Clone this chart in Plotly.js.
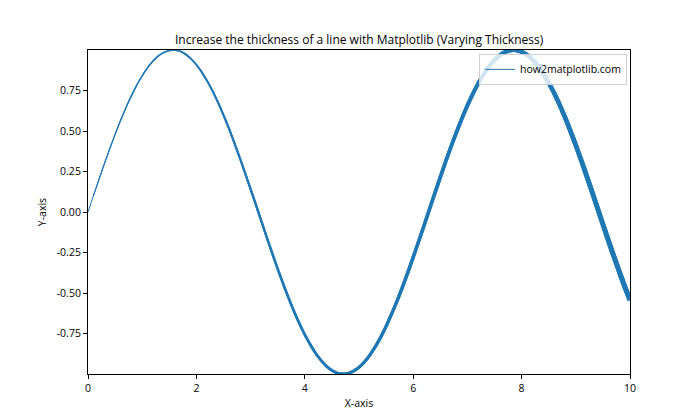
<!DOCTYPE html>
<html>
<head>
<meta charset="utf-8">
<script src="https://cdn.plot.ly/plotly-3.0.1.min.js"></script>
<style>
  body { margin: 0; background: #fff; }
  #chart { width: 700px; height: 420px; }
</style>
</head>
<body>
<div id="chart"></div>
<script>
const xValues = [0.0, 0.1, 0.2, 0.3, 0.4, 0.5, 0.6, 0.7, 0.8, 0.9,
                 1.0, 1.1, 1.2, 1.3, 1.4, 1.5, 1.6, 1.7, 1.8, 1.9,
                 2.0, 2.1, 2.2, 2.3, 2.4, 2.5, 2.6, 2.7, 2.8, 2.9,
                 3.0, 3.1, 3.2, 3.3, 3.4, 3.5, 3.6, 3.7, 3.8, 3.9,
                 4.0, 4.1, 4.2, 4.3, 4.4, 4.5, 4.6, 4.7, 4.8, 4.9,
                 5.0, 5.1, 5.2, 5.3, 5.4, 5.5, 5.6, 5.7, 5.8, 5.9,
                 6.0, 6.1, 6.2, 6.3, 6.4, 6.5, 6.6, 6.7, 6.8, 6.9,
                 7.0, 7.1, 7.2, 7.3, 7.4, 7.5, 7.6, 7.7, 7.8, 7.9,
                 8.0, 8.1, 8.2, 8.3, 8.4, 8.5, 8.6, 8.7, 8.8, 8.9,
                 9.0, 9.1, 9.2, 9.3, 9.4, 9.5, 9.6, 9.7, 9.8, 9.9, 10.0];
const yValues = [0.000, 0.100, 0.199, 0.296, 0.389, 0.479, 0.565, 0.644, 0.717, 0.783,
                 0.841, 0.891, 0.932, 0.964, 0.985, 0.997, 1.000, 0.992, 0.974, 0.946,
                 0.909, 0.863, 0.808, 0.746, 0.675, 0.598, 0.516, 0.427, 0.335, 0.239,
                 0.141, 0.042, -0.058, -0.158, -0.256, -0.351, -0.443, -0.530, -0.612, -0.688,
                 -0.757, -0.818, -0.872, -0.916, -0.952, -0.978, -0.994, -1.000, -0.996, -0.982,
                 -0.959, -0.926, -0.883, -0.832, -0.773, -0.706, -0.631, -0.551, -0.465, -0.374,
                 -0.279, -0.182, -0.083, 0.017, 0.117, 0.215, 0.312, 0.405, 0.494, 0.578,
                 0.657, 0.729, 0.794, 0.850, 0.899, 0.938, 0.968, 0.988, 0.999, 0.999,
                 0.989, 0.970, 0.941, 0.902, 0.855, 0.798, 0.734, 0.663, 0.585, 0.501,
                 0.412, 0.319, 0.223, 0.125, 0.025, -0.075, -0.175, -0.272, -0.366, -0.458, -0.544];
const yTicks = [-0.75, -0.5, -0.25, 0, 0.25, 0.5, 0.75];
const xTicks = [0, 2, 4, 6, 8, 10];
const legendName = "how2matplotlib.com";

const lineColor = "#1f77b4";
const fontFamily = "'Open Sans', 'DejaVu Sans', sans-serif";

// one trace per segment (overlapping by a point so joins have no gaps),
// line gets thicker from left to right
const data = [];
const nSeg = xValues.length - 1;
for (let i = 0; i < nSeg; i++) {
    const end = Math.min(i + 3, xValues.length);
    data.push({
        x: xValues.slice(i, end),
        y: yValues.slice(i, end),
        type: "scatter",
        mode: "lines",
        name: legendName,
        showlegend: i === 0,
        hoverinfo: "skip",
        line: {color: lineColor, width: 1 + 4 * i / (nSeg - 1), shape: "spline"}
    });
}

const axisStyle = {
    showgrid: false,
    zeroline: false,
    showline: true,
    linecolor: "#000",
    linewidth: 1,
    mirror: true,
    ticks: "outside",
    ticklen: 4,
    tickwidth: 1,
    tickcolor: "#000",
    tickfont: {size: 10.5, color: "#000", family: fontFamily}
};

const layout = {
    width: 700,
    height: 420,
    margin: {l: 88, r: 70, t: 50, b: 46},
    paper_bgcolor: "#fff",
    plot_bgcolor: "#fff",
    font: {family: fontFamily, color: "#000"},
    title: {
        text: "Increase the thickness of a line with Matplotlib (Varying Thickness)",
        font: {size: 12, color: "#000"},
        x: 0.513,
        xanchor: "center",
        y: 0.905,
        yanchor: "middle"
    },
    xaxis: Object.assign({}, axisStyle, {
        range: [0, 10],
        tickvals: xTicks,
        ticktext: xTicks.map(String),
        title: {text: "X-axis", font: {size: 10.5}, standoff: 6}
    }),
    yaxis: Object.assign({}, axisStyle, {
        range: [-1, 1],
        tickvals: yTicks,
        ticktext: yTicks.map(v => v.toFixed(2)),
        title: {text: "Y-axis", font: {size: 10.5}, standoff: 8}
    }),
    showlegend: true,
    legend: {
        x: 0.9945,
        y: 0.988,
        xanchor: "right",
        yanchor: "top",
        itemwidth: 30,
        bgcolor: "rgba(255,255,255,0.8)",
        bordercolor: "#d0d0d0",
        borderwidth: 1,
        font: {size: 10.5, color: "#000"}
    }
};

Plotly.newPlot("chart", data, layout, {displayModeBar: false, staticPlot: true});
</script>
</body>
</html>
